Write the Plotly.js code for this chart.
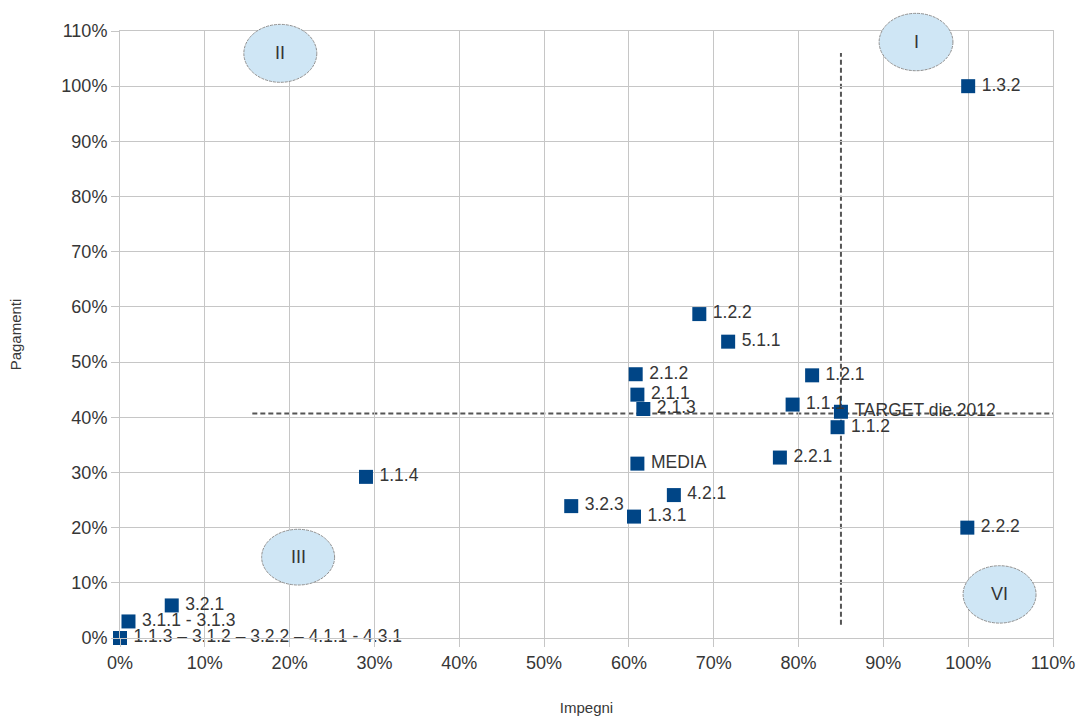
<!DOCTYPE html>
<html>
<head>
<meta charset="utf-8">
<script src="https://cdn.plot.ly/plotly-3.0.1.min.js"></script>
<style>
html,body{margin:0;padding:0;background:#fff;}
#chart{width:1078px;height:716px;}
</style>
</head>
<body>
<div id="chart"></div>
<script>
// ---- data ----
const labels = [
  "1.3.2", "1.2.2", "5.1.1", "2.1.2", "1.2.1", "2.1.1", "2.1.3", "1.1.1",
  "TARGET die.2012", "1.1.2", "2.2.1", "MEDIA", "1.1.4", "4.2.1", "3.2.3",
  "1.3.1", "2.2.2", "3.2.1", "3.1.1 - 3.1.3",
  "1.1.3 \u2013 3.1.2 \u2013 3.2.2 \u2013 4.1.1 - 4.3.1"
];
const impegni = [
  1.00, 0.683, 0.717, 0.608, 0.816, 0.610, 0.617, 0.793,
  0.850, 0.846, 0.778, 0.610, 0.290, 0.653, 0.532,
  0.606, 0.999, 0.061, 0.010, 0.0
];
const pagamenti = [
  1.00, 0.587, 0.537, 0.478, 0.476, 0.441, 0.415, 0.423,
  0.410, 0.382, 0.327, 0.316, 0.292, 0.259, 0.239,
  0.220, 0.200, 0.059, 0.030, 0.0
];
const tickVals = [0, 0.1, 0.2, 0.3, 0.4, 0.5, 0.6, 0.7, 0.8, 0.9, 1.0, 1.1];
const tickLabels = ["0%", "10%", "20%", "30%", "40%", "50%", "60%", "70%", "80%", "90%", "100%", "110%"];
const quadrantLabels = ["II", "I", "III", "VI"];
const targetX = 0.85;
const targetY = 0.407;

// ---- chart ----
const FONT = "Liberation Sans, Arial, sans-serif";
const RANGE = [0, 1.1];
function frac(v) { return (v - RANGE[0]) / (RANGE[1] - RANGE[0]); }

const markerTrace = {
  type: "scatter",
  mode: "markers",
  x: impegni,
  y: pagamenti,
  text: labels,
  cliponaxis: false,
  marker: { symbol: "square", size: 14, color: "#004586" },
  hoverinfo: "x+y+text",
  showlegend: false
};
// same points, invisible wider markers so the labels sit a little further right
const labelTrace = {
  type: "scatter",
  mode: "markers+text",
  x: impegni,
  y: pagamenti,
  text: labels,
  textposition: "middle right",
  cliponaxis: false,
  marker: { symbol: "square", size: 20, color: "rgba(0,0,0,0)" },
  textfont: { family: FONT, size: 17.5, color: "#363636" },
  hoverinfo: "skip",
  showlegend: false
};

// quadrant ellipses in data units: [x0, x1, y0, y1]
const ellipseBoxes = [
  [0.146, 0.232, 1.007, 1.112],
  [0.895, 0.982, 1.028, 1.132],
  [0.167, 0.253, 0.096, 0.197],
  [0.994, 1.080, 0.027, 0.131]
];
const shapes = [];
const annotations = [];
ellipseBoxes.forEach((b, i) => {
  shapes.push({
    type: "circle", xref: "paper", yref: "paper", layer: "above",
    x0: frac(b[0]), x1: frac(b[1]), y0: frac(b[2]), y1: frac(b[3]),
    fillcolor: "#cfe6f5", line: { color: "#8f8f8f", width: 1, dash: "3px,1px" }
  });
  annotations.push({
    xref: "paper", yref: "paper", showarrow: false,
    x: frac((b[0] + b[1]) / 2), y: frac((b[2] + b[3]) / 2),
    xanchor: "center", yanchor: "middle",
    text: quadrantLabels[i],
    font: { family: FONT, size: 18, color: "#333333" }
  });
});
// target dashed lines
shapes.push({
  type: "line", xref: "x", yref: "y", layer: "below",
  x0: targetX, x1: targetX, y0: 0.024, y1: 1.06,
  line: { color: "#555555", width: 2, dash: "5px,3px" }
});
shapes.push({
  type: "line", xref: "x", yref: "y", layer: "below",
  x0: 0.156, x1: 1.1, y0: targetY, y1: targetY,
  line: { color: "#555555", width: 2, dash: "5px,3px" }
});

const axisCommon = {
  range: RANGE,
  tickmode: "array",
  tickvals: tickVals,
  ticktext: tickLabels,
  showgrid: true,
  gridcolor: "#c6c6c6",
  gridwidth: 1,
  zeroline: false,
  showline: true,
  linecolor: "#c6c6c6",
  linewidth: 1,
  mirror: true,
  ticks: "outside",
  ticklen: 8,
  tickcolor: "#c6c6c6",
  tickfont: { family: FONT, size: 18, color: "#363636" }
};

const layout = {
  width: 1078,
  height: 716,
  paper_bgcolor: "#ffffff",
  plot_bgcolor: "#ffffff",
  margin: { l: 120, r: 25, t: 31, b: 78 },
  xaxis: Object.assign({}, axisCommon, {
    title: { text: "Impegni", standoff: 30, font: { family: FONT, size: 15, color: "#383838" } }
  }),
  yaxis: Object.assign({}, axisCommon, {
    title: { text: "Pagamenti", standoff: 36, font: { family: FONT, size: 15, color: "#383838" } }
  }),
  shapes: shapes,
  annotations: annotations,
  showlegend: false
};

Plotly.newPlot("chart", [markerTrace, labelTrace], layout, { staticPlot: true, displayModeBar: false });
</script>
</body>
</html>
